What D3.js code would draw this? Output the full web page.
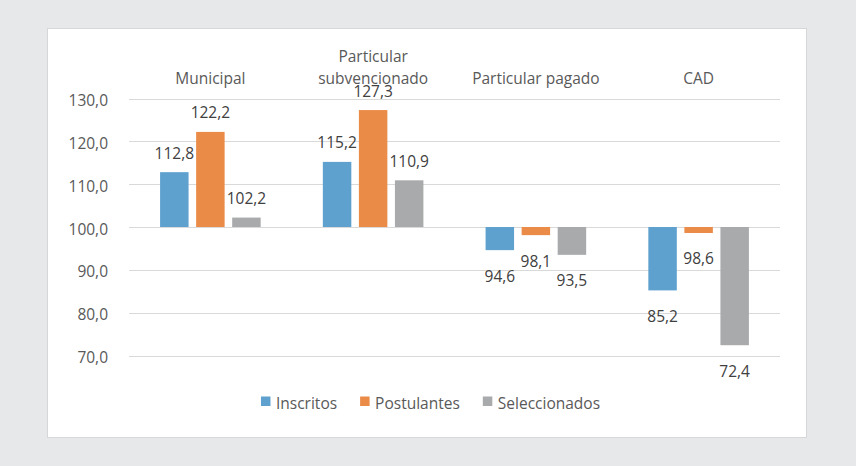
<!DOCTYPE html>
<html>
<head>
<meta charset="utf-8">
<script src="https://cdn.jsdelivr.net/npm/d3@7"></script>
<style>
  html, body { margin: 0; padding: 0; background: #e7e8e9; }
  svg { display: block; }
  text { font-family: "Open Sans", sans-serif; }
</style>
</head>
<body>
<svg id="chart" width="856" height="466"></svg>
<script>
// ---- data ----
const categories = ["Municipal", "Particular subvencionado", "Particular pagado", "CAD"];
const seriesNames = ["Inscritos", "Postulantes", "Seleccionados"];
const inscritos     = [112.8, 115.2, 94.6, 85.2];
const postulantes   = [122.2, 127.3, 98.1, 98.6];
const seleccionados = [102.2, 110.9, 93.5, 72.4];
const yTicks = [70, 80, 90, 100, 110, 120, 130];
const baseValue = 100;

const seriesValues = [inscritos, postulantes, seleccionados];
const colors = ["#5ea1cf", "#ea8b47", "#a8aaac"];

// ---- layout ----
const W = 856, H = 466;
const plot = { left: 129, right: 780, top: 98.5, bottom: 355.5 };
const fontSize = 15.5;

const svg = d3.select("#chart");
svg.append("rect").attr("x", 0).attr("y", 0).attr("width", W).attr("height", H).attr("fill", "#e7e8e9");
svg.append("rect").attr("x", 47.5).attr("y", 28.5).attr("width", 759).attr("height", 409)
  .attr("fill", "#ffffff").attr("stroke", "#d6d7d8").attr("stroke-width", 1);

const locale = d3.formatLocale({ decimal: ",", thousands: ".", grouping: [3], currency: ["", ""] });
const fmt = locale.format(".1f");

const y = d3.scaleLinear().domain([70, 130]).range([plot.bottom, plot.top]);
const x0 = d3.scaleBand().domain(categories).range([plot.left, plot.right])
  .paddingInner(0.382).paddingOuter(0.191);
const x1 = d3.scaleBand().domain(seriesNames).range([0, x0.bandwidth()]).paddingInner(0.21).paddingOuter(0);

// gridlines
svg.append("g").selectAll("line").data(yTicks).join("line")
  .attr("x1", plot.left).attr("x2", plot.right)
  .attr("y1", d => Math.round(y(d)) + 0.5).attr("y2", d => Math.round(y(d)) + 0.5)
  .attr("stroke", "#d9d9d9").attr("stroke-width", 1);

// y axis
const yAxis = svg.append("g").attr("transform", `translate(${plot.left - 21},0)`)
  .call(d3.axisLeft(y).tickValues(yTicks).tickFormat(fmt).tickSize(0).tickPadding(0));
yAxis.select(".domain").remove();
yAxis.selectAll("text").attr("font-size", fontSize).attr("fill", "#595959")
  .attr("font-family", "Open Sans, sans-serif").attr("dy", "0.62em").attr("y", 0)
  .attr("transform", "translate(0,-2.5)");

// category axis at top
const xAxis = svg.append("g").attr("transform", `translate(0,${plot.top})`)
  .call(d3.axisTop(x0).tickSize(0).tickPadding(0));
xAxis.select(".domain").remove();
xAxis.selectAll("text").attr("font-size", fontSize).attr("fill", "#595959")
  .attr("font-family", "Open Sans, sans-serif");
xAxis.selectAll(".tick text").each(function(d) {
  const t = d3.select(this);
  const words = d.split(" ");
  t.text(null).attr("dy", null).attr("y", 0);
  // wrap into lines narrower than the band step
  const lines = [];
  let cur = [];
  const probe = t.append("tspan");
  words.forEach(w => {
    const test = cur.concat([w]).join(" ");
    probe.text(test);
    if (probe.node().getComputedTextLength() > x0.step() - 10 && cur.length) {
      lines.push(cur.join(" "));
      cur = [w];
    } else cur.push(w);
  });
  lines.push(cur.join(" "));
  probe.remove();
  const lh = 21.5;
  lines.forEach((ln, i) => {
    t.append("tspan").attr("x", 0).attr("y", -15 - (lines.length - 1 - i) * lh).text(ln);
  });
});

// bars
const groups = svg.append("g").selectAll("g").data(categories).join("g")
  .attr("transform", d => `translate(${x0(d)},0)`);

groups.each(function(cat, ci) {
  const g = d3.select(this);
  const vals = seriesNames.map((s, si) => ({ s, si, v: seriesValues[si][ci] }));
  g.selectAll("rect").data(vals).join("rect")
    .attr("x", d => x1(d.s))
    .attr("width", x1.bandwidth())
    .attr("y", d => Math.min(y(d.v), y(baseValue)))
    .attr("height", d => Math.abs(y(d.v) - y(baseValue)))
    .attr("fill", d => colors[d.si]);
  g.selectAll("text").data(vals).join("text")
    .attr("x", d => x1(d.s) + x1.bandwidth() / 2)
    .attr("y", d => d.v >= baseValue ? y(d.v) - 13.5 : y(d.v) + 31.5)
    .attr("text-anchor", "middle")
    .attr("font-size", fontSize)
    .attr("fill", "#404040")
    .text(d => fmt(d.v));
});

// legend
const legend = svg.append("g");
const items = legend.selectAll("g").data(seriesNames).join("g");
items.append("rect").attr("width", 9.5).attr("height", 9.5).attr("y", 396.5)
  .attr("fill", (d, i) => colors[i]);
items.append("text").attr("x", 15).attr("y", 409).attr("font-size", fontSize)
  .attr("fill", "#595959").text(d => d);
let offs = [], total = 0;
items.each(function() {
  const w = 15 + d3.select(this).select("text").node().getComputedTextLength();
  offs.push(total);
  total += w + 23;
});
total -= 23;
const lx = 430.5 - total / 2;
items.attr("transform", (d, i) => `translate(${lx + offs[i]},0)`);
</script>
</body>
</html>
